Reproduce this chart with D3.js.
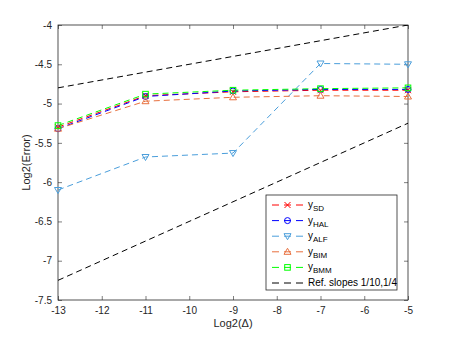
<!DOCTYPE html>
<html>
<head>
<meta charset="utf-8">
<script src="https://cdn.jsdelivr.net/npm/d3@7"></script>
<style>
  body { margin: 0; background: #fff; }
  svg { font-family: "Liberation Sans", Arial, sans-serif; }
</style>
</head>
<body>
<svg id="chart" width="450" height="338"></svg>
<script>
const xVals = [-13, -11, -9, -7, -5];
const ySD = [-5.30, -4.90, -4.85, -4.83, -4.83];
const yHAL = [-5.32, -4.91, -4.84, -4.82, -4.82];
const yALF = [-6.10, -5.68, -5.63, -4.49, -4.50];
const yBIM = [-5.32, -4.97, -4.92, -4.90, -4.91];
const yBMM = [-5.28, -4.88, -4.83, -4.81, -4.80];
const refX = [-13, -5];
const ref1 = [-4.8, -4.0];
const ref2 = [-7.25, -5.25];
const xTicks = [-13, -12, -11, -10, -9, -8, -7, -6, -5];
const yTicks = [-4, -4.5, -5, -5.5, -6, -6.5, -7, -7.5];

const series = [
  { name: "SD", vals: ySD, color: "#ff0000", marker: "x" },
  { name: "HAL", vals: yHAL, color: "#0000ff", marker: "o" },
  { name: "ALF", vals: yALF, color: "#4a9edb", marker: "v" },
  { name: "BIM", vals: yBIM, color: "#e8703e", marker: "^" },
  { name: "BMM", vals: yBMM, color: "#00ff00", marker: "s" }
];

const pLeft = 58, pRight = 408, pTop = 25, pBottom = 300;
const svg = d3.select("#chart");

const x = d3.scaleLinear().domain([-13, -5]).range([pLeft, pRight]);
const y = d3.scaleLinear().domain([-7.5, -4]).range([pBottom, pTop]);

// hyphen minus like matlab
const fmt = d => String(d);

svg.append("defs").append("clipPath").attr("id", "clip")
  .append("rect").attr("x", pLeft).attr("y", pTop)
  .attr("width", pRight - pLeft).attr("height", pBottom - pTop);

// axes, ticks inside on all four sides
const tickColor = "#262626";
svg.append("g").attr("transform", `translate(0,${pBottom})`)
  .call(d3.axisBottom(x).tickValues(xTicks).tickSize(-4).tickPadding(7).tickFormat(fmt))
  .call(g => g.select(".domain").remove());
svg.append("g").attr("transform", `translate(0,${pTop})`)
  .call(d3.axisTop(x).tickValues(xTicks).tickSize(-4).tickFormat(""))
  .call(g => g.select(".domain").remove());
svg.append("g").attr("transform", `translate(${pLeft},0)`)
  .call(d3.axisLeft(y).tickValues(yTicks).tickSize(-4).tickPadding(6).tickFormat(fmt))
  .call(g => g.select(".domain").remove());
svg.append("g").attr("transform", `translate(${pRight},0)`)
  .call(d3.axisRight(y).tickValues(yTicks).tickSize(-4).tickFormat(""))
  .call(g => g.select(".domain").remove());

svg.selectAll(".tick line").attr("stroke", tickColor).attr("stroke-width", 0.6);
svg.selectAll(".tick text").attr("fill", tickColor).style("font-size", "10px");

svg.append("rect").attr("x", pLeft).attr("y", pTop)
  .attr("width", pRight - pLeft).attr("height", pBottom - pTop)
  .attr("fill", "none").attr("stroke", tickColor).attr("stroke-width", 0.8);

svg.append("text").attr("x", (pLeft + pRight) / 2).attr("y", 327)
  .attr("text-anchor", "middle").style("font-size", "11px").attr("fill", tickColor)
  .text("Log2(Δ)");
svg.append("text").attr("transform", `translate(30,${(pTop + pBottom) / 2}) rotate(-90)`)
  .attr("text-anchor", "middle").style("font-size", "11px").attr("fill", tickColor)
  .text("Log2(Error)");

const line = d3.line().x(d => x(d[0])).y(d => y(d[1]));
const plot = svg.append("g").attr("clip-path", "url(#clip)");

function drawMarker(g, type, cx, cy, color) {
  const r = 3;
  if (type === "x") {
    g.append("path").attr("d", `M${cx - r},${cy - r}L${cx + r},${cy + r}M${cx - r},${cy + r}L${cx + r},${cy - r}`)
      .attr("stroke", color).attr("fill", "none");
  } else if (type === "o") {
    g.append("circle").attr("cx", cx).attr("cy", cy).attr("r", r)
      .attr("stroke", color).attr("fill", "none");
  } else if (type === "v") {
    g.append("path").attr("d", `M${cx - 3.5},${cy - 2.5}L${cx + 3.5},${cy - 2.5}L${cx},${cy + 3.5}Z`)
      .attr("stroke", color).attr("fill", "none");
  } else if (type === "^") {
    g.append("path").attr("d", `M${cx - 3.5},${cy + 2.5}L${cx + 3.5},${cy + 2.5}L${cx},${cy - 3.5}Z`)
      .attr("stroke", color).attr("fill", "none");
  } else if (type === "s") {
    g.append("rect").attr("x", cx - 2.8).attr("y", cy - 2.8).attr("width", 5.6).attr("height", 5.6)
      .attr("stroke", color).attr("fill", "none");
  }
}

series.forEach(s => {
  const pts = xVals.map((xv, i) => [xv, s.vals[i]]);
  plot.append("path").datum(pts).attr("d", line)
    .attr("fill", "none").attr("stroke", s.color).attr("stroke-width", 1)
    .attr("stroke-dasharray", "6,4");
  const mg = svg.append("g").attr("stroke-width", 1);
  pts.forEach(p => drawMarker(mg, s.marker, x(p[0]), y(p[1]), s.color));
});

[ref1, ref2].forEach(r => {
  plot.append("path").datum(refX.map((xv, i) => [xv, r[i]])).attr("d", line)
    .attr("fill", "none").attr("stroke", "#000").attr("stroke-width", 1)
    .attr("stroke-dasharray", "6,4");
});

// legend
const lg = svg.append("g");
lg.append("rect").attr("x", 266).attr("y", 195).attr("width", 131).attr("height", 95)
  .attr("fill", "#fff").attr("stroke", tickColor).attr("stroke-width", 0.8);
const legendItems = series.concat([{ name: "ref", color: "#000", marker: null }]);
legendItems.forEach((s, i) => {
  const ly = 205 + i * 15.6;
  lg.append("line").attr("x1", 272).attr("x2", 303).attr("y1", ly).attr("y2", ly)
    .attr("stroke", s.color).attr("stroke-width", 1).attr("stroke-dasharray", "7,5");
  if (s.marker) {
    const mg = lg.append("g").attr("stroke-width", 1);
    drawMarker(mg, s.marker, 287.5, ly, s.color);
  }
  const t = lg.append("text").attr("x", 308).attr("y", ly + 3).attr("fill", "#000")
    .style("font-size", "10px");
  if (s.marker) {
    t.append("tspan").text("y");
    t.append("tspan").attr("dy", 3).style("font-size", "8px").text(s.name);
  } else {
    t.text("Ref. slopes 1/10,1/4");
  }
});
</script>
</body>
</html>
